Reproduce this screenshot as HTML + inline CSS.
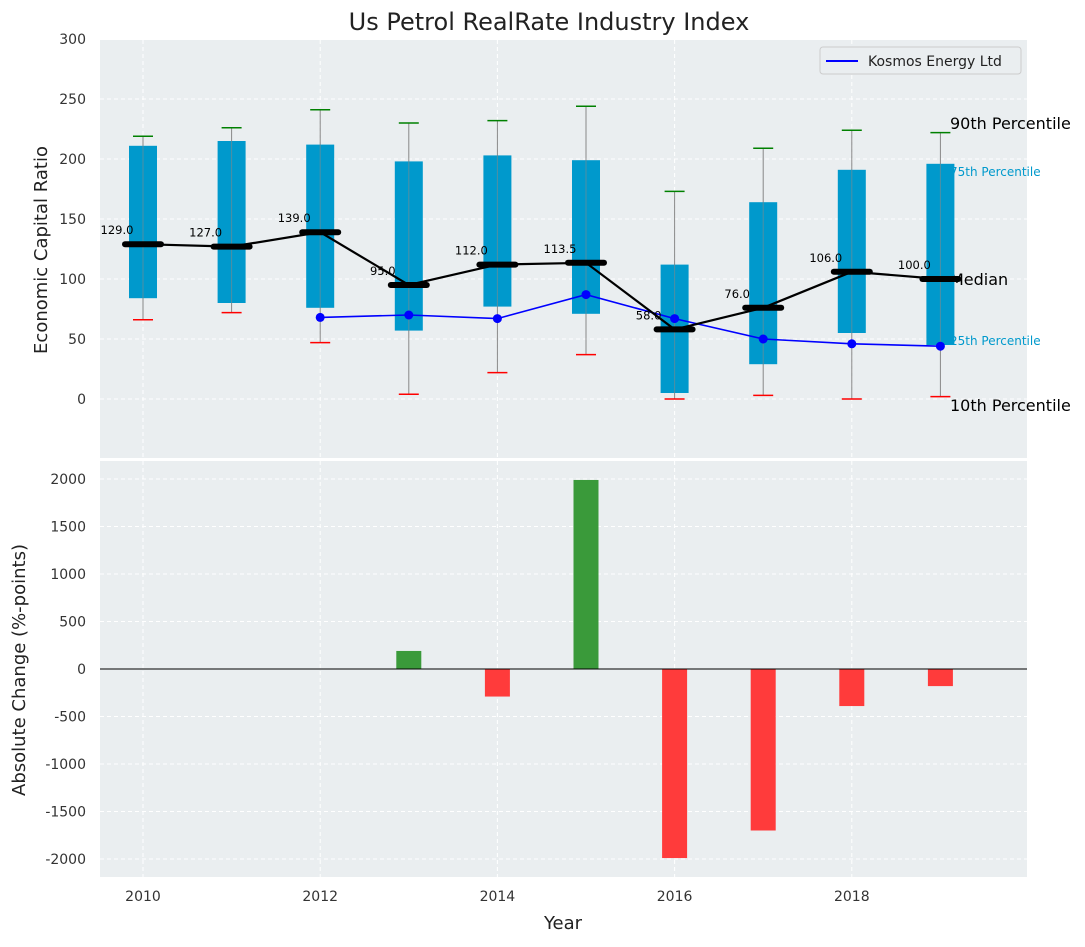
<!DOCTYPE html>
<html><head><meta charset="utf-8"><style>
body{margin:0;background:#fff;font-family:"Liberation Sans","DejaVu Sans",sans-serif}
svg text{font-family:"DejaVu Sans","Liberation Sans",sans-serif}
</style></head><body>
<svg id="chart" width="1085" height="942" xmlns="http://www.w3.org/2000/svg">
<text x="549" y="30" font-size="24" text-anchor="middle" fill="#222">Us Petrol RealRate Industry Index</text>
<rect x="100" y="40" width="927" height="418" fill="#eaeef0"/>
<rect x="100" y="461" width="927" height="416" fill="#eaeef0"/>
<g id="gtop"></g><g id="gbot"></g>
<text x="563" y="929" font-size="18" text-anchor="middle" fill="#222">Year</text>
<text transform="translate(47,250) rotate(-90)" font-size="18" text-anchor="middle" fill="#222">Economic Capital Ratio</text>
<text transform="translate(25,670) rotate(-90)" font-size="18" text-anchor="middle" fill="#222">Absolute Change (%-points)</text>
<g>
<rect x="820" y="47" width="201" height="27" rx="3" fill="#eaeef0" stroke="#ccc"/>
<line x1="826" y1="61" x2="858" y2="61" stroke="#0000ff" stroke-width="2"/>
<text x="868" y="66" font-size="14" fill="#222">Kosmos Energy Ltd</text>
</g>
</svg>
<script>
const years=[2010,2011,2012,2013,2014,2015,2016,2017,2018,2019];
const p10=[66,72,47,4,22,37,0,3,0,2];
const q25=[84,80,76,57,77,71,5,29,55,45];
const median=[129,127,139,95,112,113.5,58,76,106,100];
const q75=[211,215,212,198,203,199,112,164,191,196];
const p90=[219,226,241,230,232,244,173,209,224,222];
const kosmosYears=[2012,2013,2014,2015,2016,2017,2018,2019];
const kosmosVals=[68,70,67,87,67,50,46,44];
const changeYears=[2013,2014,2015,2016,2017,2018,2019];
const changeVals=[190,-290,1990,-1990,-1700,-390,-180];
const yTicksTop=[0,50,100,150,200,250,300];
const yTicksBot=[-2000,-1500,-1000,-500,0,500,1000,1500,2000];
const xTicks=[2010,2012,2014,2016,2018];

const X=y=>143+(y-2010)*88.6;
const YT=v=>399-v*1.2;
const YB=v=>669-v*0.095;
const NS="http://www.w3.org/2000/svg";
const gTop=document.getElementById('gtop'),gBot=document.getElementById('gbot');
function mk(p,tag,at,txt){const e=document.createElementNS(NS,tag);for(const k in at)e.setAttribute(k,at[k]);if(txt!==undefined)e.textContent=txt;p.appendChild(e);return e;}

yTicksTop.forEach(v=>{
 const l=mk(gTop,'line',{x1:100,x2:1027,y1:YT(v),y2:YT(v),stroke:'#fff','stroke-dasharray':'4,3'});
 
 
 const t=mk(gTop,'text',{x:86,y:YT(v)+5,'font-size':14,'text-anchor':'end',fill:'#333'},v);
 
 
});
yTicksBot.forEach(v=>{
 const l=mk(gBot,'line',{x1:100,x2:1027,y1:YB(v),y2:YB(v),stroke:'#fff','stroke-dasharray':'4,3'});
 
 
 const t=mk(gBot,'text',{x:86,y:YB(v)+5,'font-size':14,'text-anchor':'end',fill:'#333'},v);
 
 
});
xTicks.forEach(y=>{
 [[40,458],[461,877]].forEach(r=>{const l=mk(gTop,'line',{x1:X(y),x2:X(y),y1:r[0],y2:r[1],stroke:'#fff','stroke-dasharray':'4,3'});
 
 });
 const t=mk(gBot,'text',{x:X(y),y:901,'font-size':14,'text-anchor':'middle',fill:'#333'},y);
 
 
});

const lx=950;
[['90th Percentile',229,16,'#000'],['75th Percentile',190,12,'#0099cc'],['Median',99,16,'#000'],['25th Percentile',49,12,'#0099cc'],['10th Percentile',-6,16,'#000']].forEach(a=>{
 const t=mk(gTop,'text',{x:lx,y:YT(a[1])+5,'font-size':a[2],fill:a[3]},a[0]);
 
 
});

years.forEach((y,i)=>{
 const x=X(y);
 const w=mk(gTop,'line',{x1:x,x2:x,y1:YT(p10[i]),y2:YT(p90[i]),stroke:'#888','stroke-width':1});
 
 
 const b=mk(gTop,'rect',{x:x-14,y:YT(q75[i]),width:28,height:YT(q25[i])-YT(q75[i]),fill:'#0099cc'});
 
 
 const w2=mk(gTop,'line',{x1:x,x2:x,y1:YT(q25[i]),y2:YT(q75[i]),stroke:'#888','stroke-width':1,opacity:0.6});
 
 
 const c1=mk(gTop,'line',{x1:x-10,x2:x+10,y1:YT(p90[i]),y2:YT(p90[i]),stroke:'#008000','stroke-width':1.5});
 
 
 const c2=mk(gTop,'line',{x1:x-10,x2:x+10,y1:YT(p10[i]),y2:YT(p10[i]),stroke:'#ff0000','stroke-width':1.5});
 
 
});
const kp=mk(gTop,'polyline',{points:kosmosYears.map((y,i)=>X(y)+','+YT(kosmosVals[i])).join(' '),fill:'none',stroke:'#0000ff','stroke-width':1.6});


kosmosYears.forEach((y,i)=>{const c=mk(gTop,'circle',{cx:X(y),cy:YT(kosmosVals[i]),r:4.5,fill:'#0000ff'});
 
 });
const ml=mk(gTop,'polyline',{points:years.map((y,i)=>X(y)+','+YT(median[i])).join(' '),fill:'none',stroke:'#000','stroke-width':2.2});


years.forEach((y,i)=>{
 const x=X(y);
 const m=mk(gTop,'line',{x1:x-18,x2:x+18,y1:YT(median[i]),y2:YT(median[i]),stroke:'#000','stroke-width':6,'stroke-linecap':'round'});
 
 
 const t=mk(gTop,'text',{x:x-26,y:YT(median[i])-10,'font-size':11.5,'text-anchor':'middle',fill:'#000'},median[i].toFixed(1));
 
 
});
changeYears.forEach((y,i)=>{
 const v=changeVals[i];
 const r=mk(gBot,'rect',{x:X(y)-12.5,y:Math.min(YB(v),YB(0)),width:25,height:Math.abs(YB(v)-YB(0)),fill:v>=0?'#3a9a3a':'#ff3b3b'});
 
 
});
const z=mk(gBot,'line',{x1:100,x2:1027,y1:YB(0),y2:YB(0),stroke:'#000','stroke-width':1});


</script>
</body></html>
